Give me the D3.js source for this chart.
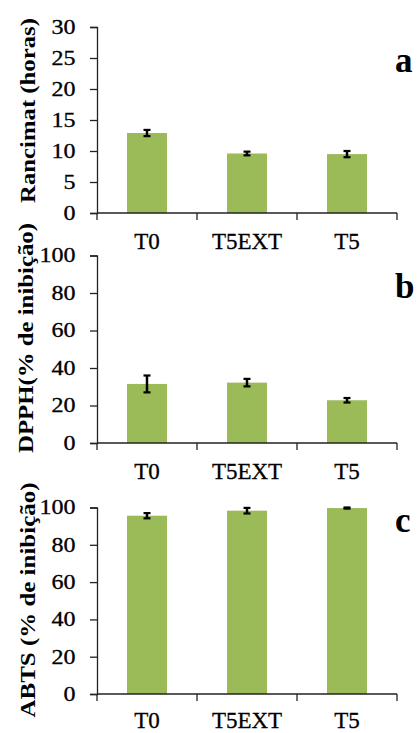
<!DOCTYPE html>
<html>
<head>
<meta charset="utf-8">
<script src="https://cdn.jsdelivr.net/npm/d3@7"></script>
<style>
  body { margin: 0; background: #fff; }
  svg { display: block; }
  .domain, .tick line { stroke: #222; stroke-width: 1.3px; }
</style>
</head>
<body>
<script>
// categorias e valores
var categories = ["T0", "T5EXT", "T5"];

var rancimat = [12.9, 9.6, 9.5];
var rancimatErr = [0.5, 0.3, 0.5];

var dpph = [31.5, 32.2, 22.8];
var dpphErr = [4.5, 2.0, 1.2];

var abts = [95.6, 98.3, 99.7];
var abtsErr = [1.4, 1.5, 0.3];

var ticksRancimat = [0, 5, 10, 15, 20, 25, 30];
var ticksPercent = [0, 20, 40, 60, 80, 100];

var titles = ["Rancimat (horas)", "DPPH(% de inibição)", "ABTS (% de inibição)"];
var letters = ["a", "b", "c"];

var SERIF = "'Liberation Serif', 'Times New Roman', serif";

var W = 418, H = 733;
var svg = d3.select("body").append("svg")
    .attr("width", W)
    .attr("height", H);

// layout de cada painel
var panels = [
    { values: rancimat, err: rancimatErr, ticks: ticksRancimat, max: 30, top: 27, bottom: 213, labelY: 36,
      title: titles[0], titleX: 35, titleY: 110.5, titleLen: 185, letter: letters[0], letterY: 72 },
    { values: dpph, err: dpphErr, ticks: ticksPercent, max: 100, top: 255.5, bottom: 443, labelY: 36,
      title: titles[1], titleX: 33, titleY: 338, titleLen: 230, letter: letters[1], letterY: 298 },
    { values: abts, err: abtsErr, ticks: ticksPercent, max: 100, top: 507.5, bottom: 694, labelY: 34,
      title: titles[2], titleX: 35, titleY: 600, titleLen: 235, letter: letters[2], letterY: 532 }
];

var x = d3.scaleBand()
    .domain(categories)
    .range([97, 397])
    .paddingInner(0.6)
    .paddingOuter(0.3);

panels.forEach(function(p) {
    var y = d3.scaleLinear().domain([0, p.max]).range([p.bottom, p.top]);
    var g = svg.append("g");

    // barras
    g.selectAll("rect.bar")
        .data(p.values)
        .enter().append("rect")
        .attr("class", "bar")
        .attr("x", function(d, i) { return x(categories[i]); })
        .attr("width", x.bandwidth())
        .attr("y", function(d) { return y(d); })
        .attr("height", function(d) { return p.bottom - y(d); })
        .style("fill", "#9BBB59");

    // barras de erro
    var eb = g.selectAll("g.err")
        .data(p.values)
        .enter().append("g")
        .attr("class", "err");
    eb.append("line")
        .attr("x1", function(d, i) { return x(categories[i]) + x.bandwidth() / 2; })
        .attr("x2", function(d, i) { return x(categories[i]) + x.bandwidth() / 2; })
        .attr("y1", function(d, i) { return y(d - p.err[i]); })
        .attr("y2", function(d, i) { return y(d + p.err[i]); })
        .style("stroke", "#000").style("stroke-width", 2.5);
    [-1, 1].forEach(function(s) {
        eb.append("line")
            .attr("x1", function(d, i) { return x(categories[i]) + x.bandwidth() / 2 - 3.5; })
            .attr("x2", function(d, i) { return x(categories[i]) + x.bandwidth() / 2 + 3.5; })
            .attr("y1", function(d, i) { return y(d + s * p.err[i]); })
            .attr("y2", function(d, i) { return y(d + s * p.err[i]); })
            .style("stroke", "#000").style("stroke-width", 2.2);
    });

    // eixo y
    var yAxis = d3.axisLeft(y).tickValues(p.ticks).tickSize(7).tickPadding(11).tickSizeOuter(7);
    g.append("g")
        .attr("transform", "translate(97,0)")
        .call(yAxis)
        .selectAll("text")
        .style("font-family", SERIF)
        .style("font-size", "20px")
        .style("fill", "#000")
        .style("stroke", "#000").style("stroke-width", 0.3)
        .attr("transform", "scale(1.2,1)");

    // eixo x
    var xAxis = d3.axisBottom(x).tickSize(0).tickPadding(0);
    var gx = g.append("g")
        .attr("transform", "translate(0," + p.bottom + ")");
    gx.call(xAxis);
    gx.select(".domain").attr("d", "M97,0H397");
    gx.selectAll("text")
        .attr("y", p.labelY).attr("dy", null)
        .style("font-family", SERIF)
        .style("font-size", "23px")
        .style("fill", "#000")
        .style("stroke", "#000").style("stroke-width", 0.3);
    // marcas entre categorias
    gx.selectAll("line.sep")
        .data([97, 197, 297, 397])
        .enter().append("line")
        .attr("class", "sep")
        .attr("x1", function(d) { return d; })
        .attr("x2", function(d) { return d; })
        .attr("y1", 0).attr("y2", 7)
        .style("stroke", "#222").style("stroke-width", 1.3);

    // título do eixo
    g.append("text")
        .attr("transform", "translate(" + p.titleX + "," + p.titleY + ") rotate(-90)")
        .attr("text-anchor", "middle")
        .attr("textLength", p.titleLen)
        .attr("lengthAdjust", "spacingAndGlyphs")
        .style("font-family", SERIF)
        .style("font-weight", "bold")
        .style("font-size", "21px")
        .text(p.title);

    // letra do painel
    g.append("text")
        .attr("x", 395)
        .attr("y", p.letterY)
        .style("font-family", SERIF)
        .style("font-weight", "bold")
        .style("font-size", "35px")
        .text(p.letter);
});
</script>
</body>
</html>
